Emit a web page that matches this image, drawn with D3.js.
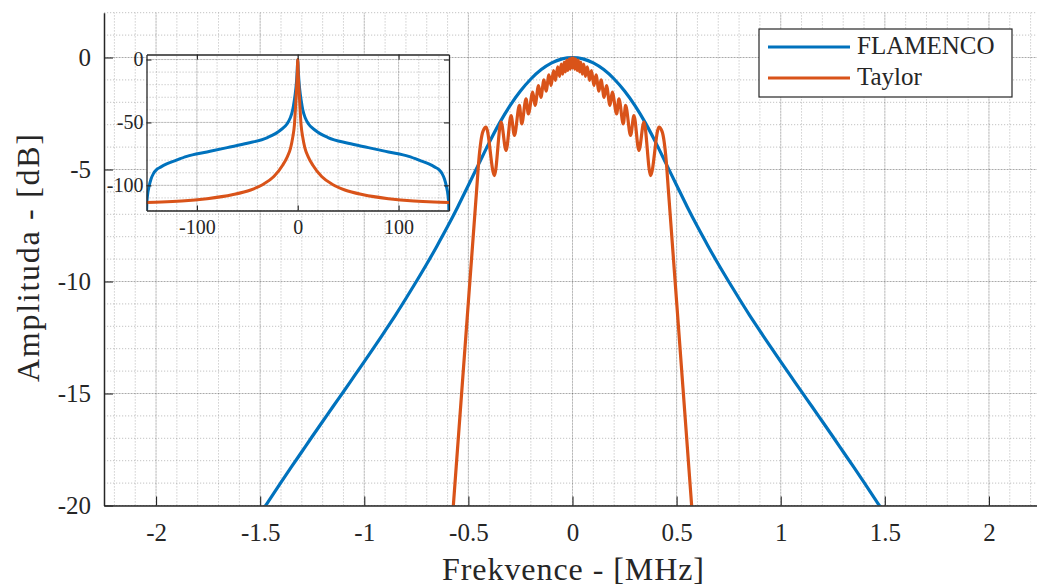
<!DOCTYPE html>
<html>
<head>
<meta charset="utf-8">
<script src="https://cdn.jsdelivr.net/npm/d3@7"></script>
<style>
  body { margin: 0; background: #fff; }
  svg { display: block; }
</style>
</head>
<body>
<svg id="chart" width="1037" height="588"></svg>
<script>
// ---- Main spectrum: frequency (MHz) vs amplitude (dB) ----
const flamencoFreq = [-1.55,-1.5,-1.45,-1.4,-1.35,-1.3,-1.25,-1.2,-1.15,-1.1,-1.05,-1.0,-0.95,-0.9,-0.85,-0.8,-0.75,-0.7,-0.65,-0.6,-0.55,-0.5,-0.45,-0.4,-0.35,-0.3,-0.25,-0.2,-0.15,-0.1,-0.05,
  0,0.05,0.1,0.15,0.2,0.25,0.3,0.35,0.4,0.45,0.5,0.55,0.6,0.65,0.7,0.75,0.8,0.85,0.9,0.95,1.0,1.05,1.1,1.15,1.2,1.25,1.3,1.35,1.4,1.45,1.5,1.55];
const flamencoDb = [-21.1,-20.37,-19.67,-18.97,-18.28,-17.6,-16.92,-16.25,-15.58,-14.92,-14.25,-13.58,-12.9,-12.2,-11.5,-10.76,-10.0,-9.22,-8.4,-7.55,-6.65,-5.7,-4.75,-3.8,-2.92,-2.15,-1.5,-0.96,-0.54,-0.24,-0.06,
  0,-0.06,-0.24,-0.54,-0.96,-1.5,-2.15,-2.92,-3.8,-4.75,-5.7,-6.65,-7.55,-8.4,-9.22,-10.0,-10.76,-11.5,-12.2,-12.9,-13.58,-14.25,-14.92,-15.58,-16.25,-16.92,-17.6,-18.28,-18.97,-19.67,-20.37,-21.1];

const taylorFreq = [-0.6,-0.575,-0.5,-0.46,-0.45,-0.44,-0.43,-0.415,-0.375,-0.343,-0.319,-0.295,-0.279,-0.255,-0.244,-0.223,-0.212,-0.191,-0.18,-0.163,-0.152,-0.137,-0.127,-0.113,-0.103,-0.091,-0.082,-0.071,-0.062,-0.054,-0.047,-0.04,-0.034,-0.028,-0.022,-0.016,-0.011,-0.005,
  0,
  0.005,0.011,0.016,0.022,0.028,0.034,0.04,0.047,0.054,0.062,0.071,0.082,0.091,0.103,0.113,0.127,0.137,0.152,0.163,0.18,0.191,0.212,0.223,0.244,0.255,0.279,0.295,0.319,0.343,0.375,0.415,0.43,0.44,0.45,0.46,0.5,0.575,0.6];
const taylorDb = [-23.5,-20.35,-10.9,-5.86,-4.6,-3.75,-3.3,-3.11,-5.27,-2.88,-4.15,-2.59,-3.48,-2.14,-2.96,-1.85,-2.52,-1.55,-2.14,-1.25,-1.78,-1.0,-1.5,-0.78,-1.25,-0.58,-1.02,-0.42,-0.84,-0.3,-0.74,-0.2,-0.64,-0.12,-0.58,-0.06,-0.52,-0.02,
  -0.46,
  -0.02,-0.52,-0.06,-0.58,-0.12,-0.64,-0.2,-0.74,-0.3,-0.84,-0.42,-1.02,-0.58,-1.25,-0.78,-1.5,-1.0,-1.78,-1.25,-2.14,-1.55,-2.52,-1.85,-2.96,-2.14,-3.48,-2.59,-4.15,-2.88,-5.27,-3.11,-3.3,-3.75,-4.6,-5.86,-10.9,-20.35,-23.5];

const xTicks = [-2,-1.5,-1,-0.5,0,0.5,1,1.5,2];
const yTicks = [-20,-15,-10,-5,0];
const xLimits = [-2.25, 2.25];
const yLimits = [-20, 2];

// ---- Inset: full-range view ----
const insetFlamencoX = [-150,-149.7,-149,-147.5,-145.5,-143,-140,-136,-130,-122,-110,-90,-70,-50,-30,-17,-10.5,-7.5,-5,-3.5,-2,-1,-0.5,
  0,0.5,1,2,3.5,5,7.5,10.5,17,30,50,70,90,110,122,130,136,140,143,145.5,147.5,149,149.7,150];
const insetFlamencoDb = [-124,-115,-108,-101,-95,-90.5,-87.5,-85.5,-83,-80.5,-77,-73.5,-70,-66.5,-62,-56,-51,-46.5,-40,-33,-24,-15,-8,
  0,-8,-15,-24,-33,-40,-46.5,-51,-56,-62,-66.5,-70,-73.5,-77,-80.5,-83,-85.5,-87.5,-90.5,-95,-101,-108,-115,-124];

const insetTaylorX = [-150,-135,-115,-90,-65,-46.7,-35,-23.7,-15,-10.5,-7,-5,-3.3,-2,-1,-0.5,
  0,0.5,1,2,3.3,5,7,10.5,15,23.7,35,46.7,65,90,115,135,150];
const insetTaylorDb = [-113.6,-113.3,-112.5,-110.6,-107.5,-103.7,-99.5,-93,-84,-77.5,-70,-62,-52,-35,-20,-12,
  0,-12,-20,-35,-52,-62,-70,-77.5,-84,-93,-99.5,-103.7,-107.5,-110.6,-112.5,-113.3,-113.6];

const insetXTicks = [-100, 0, 100];
const insetYTicks = [-100, -50, 0];
const insetXLimits = [-150, 150];
const insetYLimits = [-120, 4];

const seriesNames = ["FLAMENCO", "Taylor"];
const seriesColors = ["#0072BD", "#D95319"];

// ---------------------------------------------------------------
const serif = "'Liberation Serif', 'Times New Roman', Times, serif";
const svg = d3.select("#chart");
const ink = "#262626";
const fmt = d => String(d);   // plain hyphen for negatives

function drawGrid(g, xs, ys, xMajor, xMinor, yMajor, yMinor) {
  const [x0, x1] = xs.range(), [y0, y1] = ys.range();
  const minor = g.append("g").attr("stroke", ink).attr("stroke-opacity", 0.28)
    .attr("stroke-dasharray", "1.2 1.8").attr("stroke-width", 1);
  minor.selectAll("line.vx").data(xMinor).join("line")
    .attr("x1", d => xs(d)).attr("x2", d => xs(d)).attr("y1", y0).attr("y2", y1);
  minor.selectAll("line.hy").data(yMinor).join("line")
    .attr("y1", d => ys(d)).attr("y2", d => ys(d)).attr("x1", x0).attr("x2", x1);
  const major = g.append("g").attr("stroke", ink).attr("stroke-opacity", 0.16).attr("stroke-width", 1);
  major.selectAll("line.vx").data(xMajor).join("line")
    .attr("x1", d => xs(d)).attr("x2", d => xs(d)).attr("y1", y0).attr("y2", y1);
  major.selectAll("line.hy").data(yMajor).join("line")
    .attr("y1", d => ys(d)).attr("y2", d => ys(d)).attr("x1", x0).attr("x2", x1);
}

function steps(lo, hi, step) {
  const n = Math.round((hi - lo) / step);
  return d3.range(n + 1).map(i => +(lo + i * step).toFixed(6));
}

function styleAxis(a, size, domainWidth) {
  a.attr("font-family", null).attr("font-size", null);
  a.select(".domain").attr("stroke", ink).attr("stroke-width", domainWidth);
  a.selectAll(".tick line").attr("stroke", ink).attr("stroke-width", 1.1);
  a.selectAll("text").style("font-family", serif).style("font-size", size + "px").attr("fill", ink);
}

// ---- main axes ----
const x = d3.scaleLinear().domain(xLimits).range([104, 1041]);
const y = d3.scaleLinear().domain(yLimits).range([505.5, 12.7]);

const defs = svg.append("defs");
defs.append("clipPath").attr("id", "clipMain")
  .append("rect").attr("x", 104).attr("y", 12.7).attr("width", 1041 - 104).attr("height", 505.5 - 12.7);

const gMain = svg.append("g");
drawGrid(gMain, x, y,
  steps(-2, 2, 0.5), steps(-2.2, 2.2, 0.1),
  steps(-20, 0, 5), steps(-20, 2, 1));

const lineMain = d3.line().x(d => x(d[0])).y(d => y(d[1])).curve(d3.curveMonotoneX);
const mainSeries = [d3.zip(flamencoFreq, flamencoDb), d3.zip(taylorFreq, taylorDb)];
gMain.append("g").attr("clip-path", "url(#clipMain)")
  .selectAll("path").data(mainSeries).join("path")
  .attr("d", lineMain).attr("fill", "none")
  .attr("stroke", (d, i) => seriesColors[i]).attr("stroke-width", 3.2)
  .attr("stroke-linejoin", "round");

const axL = svg.append("g").attr("transform", "translate(104,0)")
  .call(d3.axisLeft(y).tickValues(yTicks).tickFormat(fmt).tickSize(-9).tickSizeOuter(0).tickPadding(13));
const axB = svg.append("g").attr("transform", "translate(0,505.5)")
  .call(d3.axisBottom(x).tickValues(xTicks).tickFormat(fmt).tickSize(-9).tickSizeOuter(0).tickPadding(18));
styleAxis(axL, 25, 1.5);
styleAxis(axB, 25, 1.5);

svg.append("text").attr("x", 573).attr("y", 580).attr("text-anchor", "middle")
  .style("font-family", serif).style("font-size", "32px").attr("fill", ink)
  .attr("textLength", 262).text("Frekvence - [MHz]");
svg.append("text").attr("transform", "translate(39,258) rotate(-90)").attr("text-anchor", "middle")
  .style("font-family", serif).style("font-size", "32px").attr("fill", ink)
  .attr("textLength", 248).text("Amplituda - [dB]");

// ---- inset axes ----
const ix = d3.scaleLinear().domain(insetXLimits).range([146.5, 449]);
const iy = d3.scaleLinear().domain(insetYLimits).range([210.5, 54.5]);
const gIn = svg.append("g");
gIn.append("rect").attr("x", 146.5).attr("y", 54.5).attr("width", 449 - 146.5).attr("height", 210.5 - 54.5)
  .attr("fill", "#fff");
drawGrid(gIn, ix, iy,
  insetXTicks, steps(-140, 140, 20),
  insetYTicks, steps(-120, 0, 10));

defs.append("clipPath").attr("id", "clipInset")
  .append("rect").attr("x", 146.5).attr("y", 54.5).attr("width", 449 - 146.5).attr("height", 210.5 - 54.5);
const lineIn = d3.line().x(d => ix(d[0])).y(d => iy(d[1])).curve(d3.curveMonotoneX);
const insetSeries = [d3.zip(insetFlamencoX, insetFlamencoDb), d3.zip(insetTaylorX, insetTaylorDb)];
gIn.append("g").attr("clip-path", "url(#clipInset)")
  .selectAll("path").data(insetSeries).join("path")
  .attr("d", lineIn).attr("fill", "none")
  .attr("stroke", (d, i) => seriesColors[i]).attr("stroke-width", 3)
  .attr("stroke-linejoin", "round");

const iaL = gIn.append("g").attr("transform", "translate(146.5,0)")
  .call(d3.axisLeft(iy).tickValues(insetYTicks).tickFormat(fmt).tickSize(-5).tickSizeOuter(0).tickPadding(3));
const iaR = gIn.append("g").attr("transform", "translate(449,0)")
  .call(d3.axisRight(iy).tickValues(insetYTicks).tickFormat("").tickSize(-5).tickSizeOuter(0));
const iaB = gIn.append("g").attr("transform", "translate(0,210.5)")
  .call(d3.axisBottom(ix).tickValues(insetXTicks).tickFormat(fmt).tickSize(-5).tickSizeOuter(0).tickPadding(9));
const iaT = gIn.append("g").attr("transform", "translate(0,54.5)")
  .call(d3.axisTop(ix).tickValues(insetXTicks).tickFormat("").tickSize(-5).tickSizeOuter(0));
[iaL, iaR, iaB, iaT].forEach(a => styleAxis(a, 20, 1.3));

// ---- legend ----
const lg = svg.append("g");
lg.append("rect").attr("x", 759).attr("y", 29).attr("width", 253).attr("height", 68)
  .attr("fill", "#fff").attr("stroke", ink).attr("stroke-width", 1.2);
const rows = lg.selectAll("g.row").data(seriesNames).join("g")
  .attr("transform", (d, i) => `translate(0,${[47, 78][i]})`);
rows.append("line").attr("x1", 768).attr("x2", 850).attr("y1", 0).attr("y2", 0)
  .attr("stroke", (d, i) => seriesColors[i]).attr("stroke-width", 3.2);
rows.append("text").attr("x", 857).attr("y", 7)
  .style("font-family", serif).style("font-size", "25px").attr("fill", ink).text(d => d);
</script>
</body>
</html>
